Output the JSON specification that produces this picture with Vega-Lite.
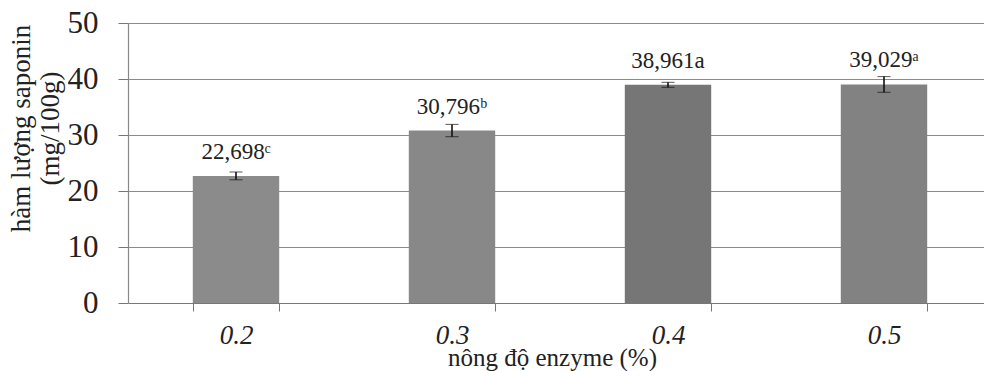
{
  "$schema": "https://vega.github.io/schema/vega-lite/v6.json",
  "width": 856,
  "height": 280,
  "autosize": "none",
  "padding": {"left": 128, "top": 23, "right": 0, "bottom": 68},
  "background": "white",
  "config": {"view": {"stroke": null}, "font": "Liberation Serif"},
  "data": {"values": [
    {"enzyme": "0.2", "saponin": 22.698, "err": 0.7, "label": "22,698ᶜ"},
    {"enzyme": "0.3", "saponin": 30.796, "err": 1.1, "label": "30,796ᵇ"},
    {"enzyme": "0.4", "saponin": 38.961, "err": 0.45, "label": "38,961a"},
    {"enzyme": "0.5", "saponin": 39.029, "err": 1.4, "label": "39,029ᵃ"}
  ]},
  "encoding": {
    "x": {
      "field": "enzyme", "type": "nominal", "sort": null,
      "scale": {"range": [0, 864], "paddingInner": 0.6, "paddingOuter": 0.3},
      "axis": {
        "title": "nông độ enzyme (%)",
        "titleFont": "Liberation Serif", "titleFontSize": 25, "titleFontWeight": "normal", "titleColor": "#222",
        "titleX": 424, "titleY": 62, "titleBaseline": "alphabetic", "titleAlign": "center",
        "labelFont": "Liberation Serif", "labelFontStyle": "italic", "labelFontSize": 27, "labelColor": "#222",
        "labelAngle": 0, "labelPadding": 11,
        "tickBand": "extent", "tickSize": 8, "tickColor": "#777", "tickWidth": 1,
        "domainColor": "#777", "domainWidth": 1.2, "grid": false
      }
    },
    "y": {
      "field": "saponin", "type": "quantitative",
      "scale": {"domain": [0, 50], "nice": false},
      "axis": {
        "values": [0, 10, 20, 30, 40, 50],
        "title": ["hàm lượng saponin", "(mg/100g)"],
        "titleFont": "Liberation Serif", "titleFontSize": 27, "titleFontWeight": "normal", "titleColor": "#222",
        "titleAngle": -90, "titleX": -99, "titleY": 105, "titleBaseline": "alphabetic", "titleAlign": "center",
        "titleLineHeight": 29,
        "labelFont": "Liberation Serif", "labelFontSize": 31, "labelColor": "#222", "labelPadding": 20,
        "tickSize": 10, "tickColor": "#777", "domainColor": "#888", "domainWidth": 1.2,
        "grid": true, "gridColor": "#8a8a8a", "gridWidth": 1.2
      }
    }
  },
  "layer": [
    {
      "mark": {"type": "bar"},
      "encoding": {
        "color": {
          "field": "enzyme", "type": "nominal", "legend": null,
          "scale": {"range": ["#8b8b8b", "#888888", "#767676", "#828282"]}
        }
      }
    },
    {
      "mark": {"type": "errorbar", "ticks": {"size": 13, "color": "#111", "strokeWidth": 1.6}, "rule": {"color": "#111", "strokeWidth": 1.6}},
      "encoding": {
        "yError": {"field": "err"}
      }
    },
    {
      "mark": {"type": "text", "baseline": "alphabetic", "align": "center", "dy": -17, "fontSize": 23, "font": "Liberation Serif", "color": "#222"},
      "encoding": {
        "text": {"field": "label"}
      }
    }
  ]
}
